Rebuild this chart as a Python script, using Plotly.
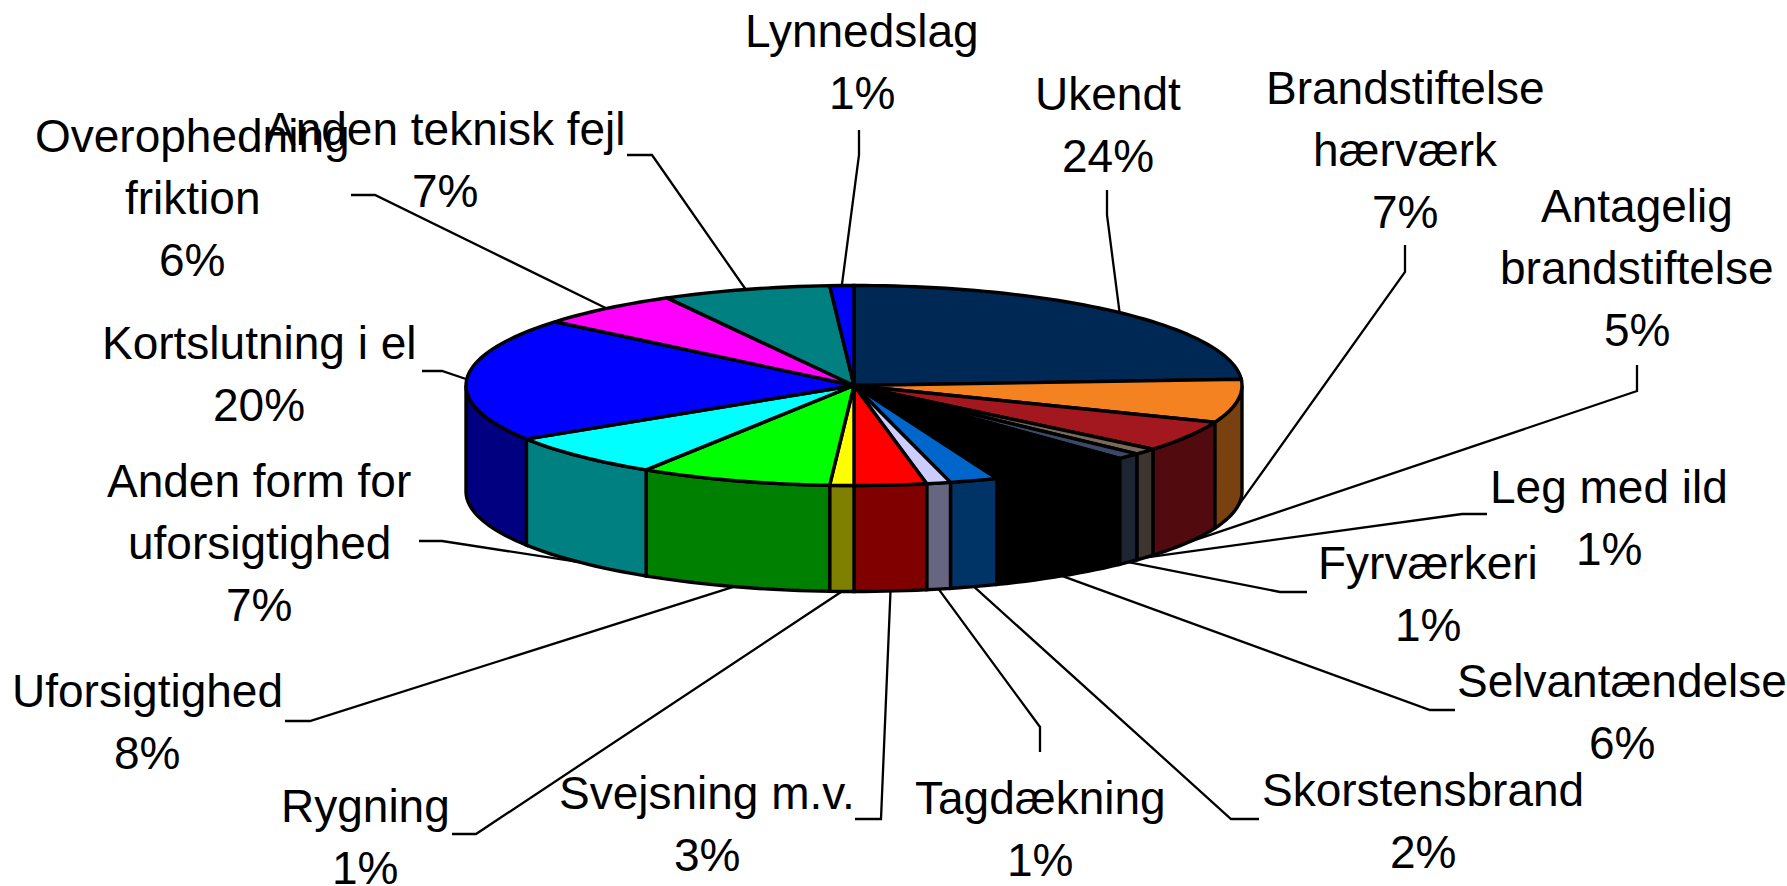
import math
import plotly.graph_objects as go

# ---- data ----
categories = ["Ukendt", "Brandstiftelse\nhærværk", "Antagelig\nbrandstiftelse", "Leg med ild",
              "Fyrværkeri", "Selvantændelse", "Skorstensbrand", "Tagdækning", "Svejsning m.v.",
              "Rygning", "Uforsigtighed", "Anden form for\nuforsigtighed", "Kortslutning i el",
              "Overophedning\nfriktion", "Anden teknisk fejl", "Lynnedslag"]
percent = [24, 7, 5, 1, 1, 6, 2, 1, 3, 1, 8, 7, 20, 6, 7, 1]

# ---- styles ----
top_colors = ["#002855", "#F58220", "#A3171E", "#7A6A5A", "#3A4A66", "#000000", "#0066CC", "#CCCCFF",
              "#FF0000", "#FFFF00", "#00FF00", "#00FFFF", "#0000FF", "#FF00FF", "#008080", "#0000FF"]
wall_colors = ["#00142B", "#7A4110", "#510B0F", "#3D3530", "#1D2533", "#000000", "#003366", "#666680",
               "#800000", "#808000", "#008000", "#008080", "#000080", "#800080", "#004040", "#000080"]

# ---- layout of the pie and of the labels (page pixels) ----
CX, CY, RX, RY, DEPTH = 854, 385.5, 388, 100, 106
FONT_SIZE, LINE_GAP = 46, 62
# centre x and first-line centre y of each label
label_xy = [(1108, 94), (1405, 88), (1637, 206), (1609, 487), (1428, 563), (1622, 681), (1423, 790),
            (1040, 798), (707, 793), (365, 806), (147, 691), (259, 481), (259, 343), (192, 136),
            (445, 129), (862, 31)]
# the start and elbow of each leader line; its end is found from the slice
leader_start = [(1107, 190), (1405, 245), (1637, 365), (1487, 514), (1307, 592), (1455, 710), (1259, 819),
                (1040, 752), (855, 819), (452, 834), (285, 721), (419, 541), (422, 371), (351, 195),
                (627, 155), (859, 130)]
leader_elbow = [(1107, 215), (1405, 272), (1637, 391), (1462, 514), (1280, 592), (1430, 710), (1231, 819),
                (1040, 727), (881, 819), (476, 834), (310, 721), (442, 541), (442, 371), (375, 195),
                (652, 155), (859, 155)]


def rim(angle_deg, drop=0.0):
    a = math.radians(angle_deg)
    return CX + RX * math.sin(a), CY - RY * math.cos(a) + drop


def arc(a0, a1, drop=0.0):
    n = max(2, int(abs(a1 - a0) / 1.5) + 1)
    return [rim(a0 + (a1 - a0) * i / (n - 1), drop) for i in range(n)]


total = sum(percent)
starts, ends = [], []
acc = 0
for v in percent:
    starts.append(acc / total * 360)
    acc += v
    ends.append(acc / total * 360)

fig = go.Figure()


def poly(points, fill, width=3.4):
    fig.add_trace(go.Scatter(
        x=[p[0] for p in points], y=[p[1] for p in points], mode="lines",
        fill="toself", fillcolor=fill, line=dict(color="#000000", width=width, simplify=False),
        hoverinfo="skip", showlegend=False))


# leader lines, under the pie
for s, e, st, el in zip(starts, ends, leader_start, leader_elbow):
    mid = (s + e) / 2
    front = math.cos(math.radians(mid)) < 0
    end = rim(mid, DEPTH if front else 0)
    fig.add_trace(go.Scatter(x=[st[0], el[0], end[0]], y=[st[1], el[1], end[1]], mode="lines",
                             line=dict(color="#000000", width=2.3), hoverinfo="skip", showlegend=False))

# side walls: only the front half of the rim can be seen
for s, e, c in zip(starts, ends, wall_colors):
    a0, a1 = max(s, 90), min(e, 270)
    if a1 > a0:
        top = arc(a0, a1)
        bottom = arc(a1, a0, DEPTH)
        poly(top + bottom + [top[0]], c)

# top faces
for s, e, c in zip(starts, ends, top_colors):
    pts = [(CX, CY)] + arc(s, e) + [(CX, CY)]
    poly(pts, c)

annotations = []
for name, v, (lx, ly) in zip(categories, percent, label_xy):
    lines = name.split("\n") + [f"{v}%"]
    for i, t in enumerate(lines):
        annotations.append(dict(x=lx, y=ly + i * LINE_GAP, xref="x", yref="y", text=t, showarrow=False,
                                xanchor="center", yanchor="middle",
                                font=dict(family="Liberation Sans", size=FONT_SIZE, color="#000000")))

fig.update_layout(
    width=1787, height=886, margin=dict(l=0, r=0, t=0, b=0),
    paper_bgcolor="#FFFFFF", plot_bgcolor="#FFFFFF", showlegend=False,
    xaxis=dict(range=[0, 1787], visible=False, fixedrange=True),
    yaxis=dict(range=[886, 0], visible=False, fixedrange=True),
    annotations=annotations,
)
fig.write_html("out.html", config={"displayModeBar": False},
               post_script="document.body.style.margin='0';document.body.style.overflow='hidden';")
